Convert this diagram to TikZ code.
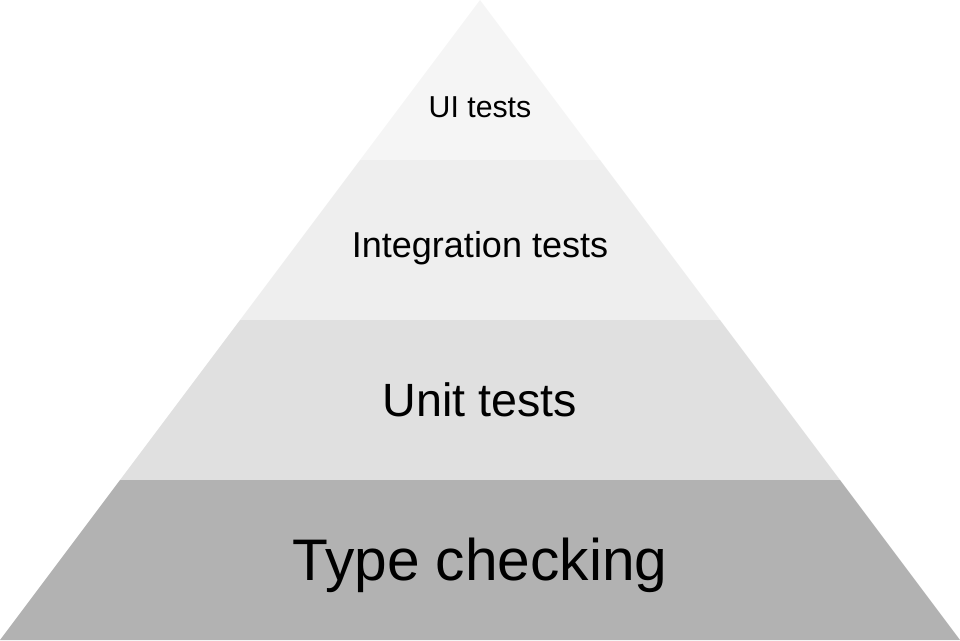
\documentclass[tikz,border=0pt]{standalone}
\usepackage{fontspec}
\setmainfont{Liberation Sans}
\definecolor{bandA}{HTML}{F5F5F5}
\definecolor{bandB}{HTML}{EEEEEE}
\definecolor{bandC}{HTML}{E0E0E0}
\definecolor{bandD}{HTML}{B2B2B2}
\tikzset{
  lbl/.style={anchor=base, inner sep=0pt, text=black},
}
\begin{document}
\begin{tikzpicture}[x=0.75pt,y=-0.75pt]
\useasboundingbox (0,0) rectangle (960,640);
\fill[bandA] (480,0) -- (600,160) -- (360,160) -- cycle;
\fill[bandB] (360,160) -- (600,160) -- (720,320) -- (240,320) -- cycle;
\fill[bandC] (240,320) -- (720,320) -- (840,480) -- (120,480) -- cycle;
\fill[bandD] (120,480) -- (840,480) -- (960,640) -- (0,640) -- cycle;
\node[lbl, font=\fontsize{22.7pt}{27pt}\selectfont] (ui) at (480,117) {UI tests};
\node[lbl, font=\fontsize{27pt}{32pt}\selectfont] (integ) at (480,257) {Integration tests};
\node[lbl, font=\fontsize{35pt}{42pt}\selectfont] (unit) at (480,416.5) {Unit tests};
\node[lbl, font=\fontsize{44pt}{53pt}\selectfont] (types) at (480,580) {Type checking};
\end{tikzpicture}
\end{document}
